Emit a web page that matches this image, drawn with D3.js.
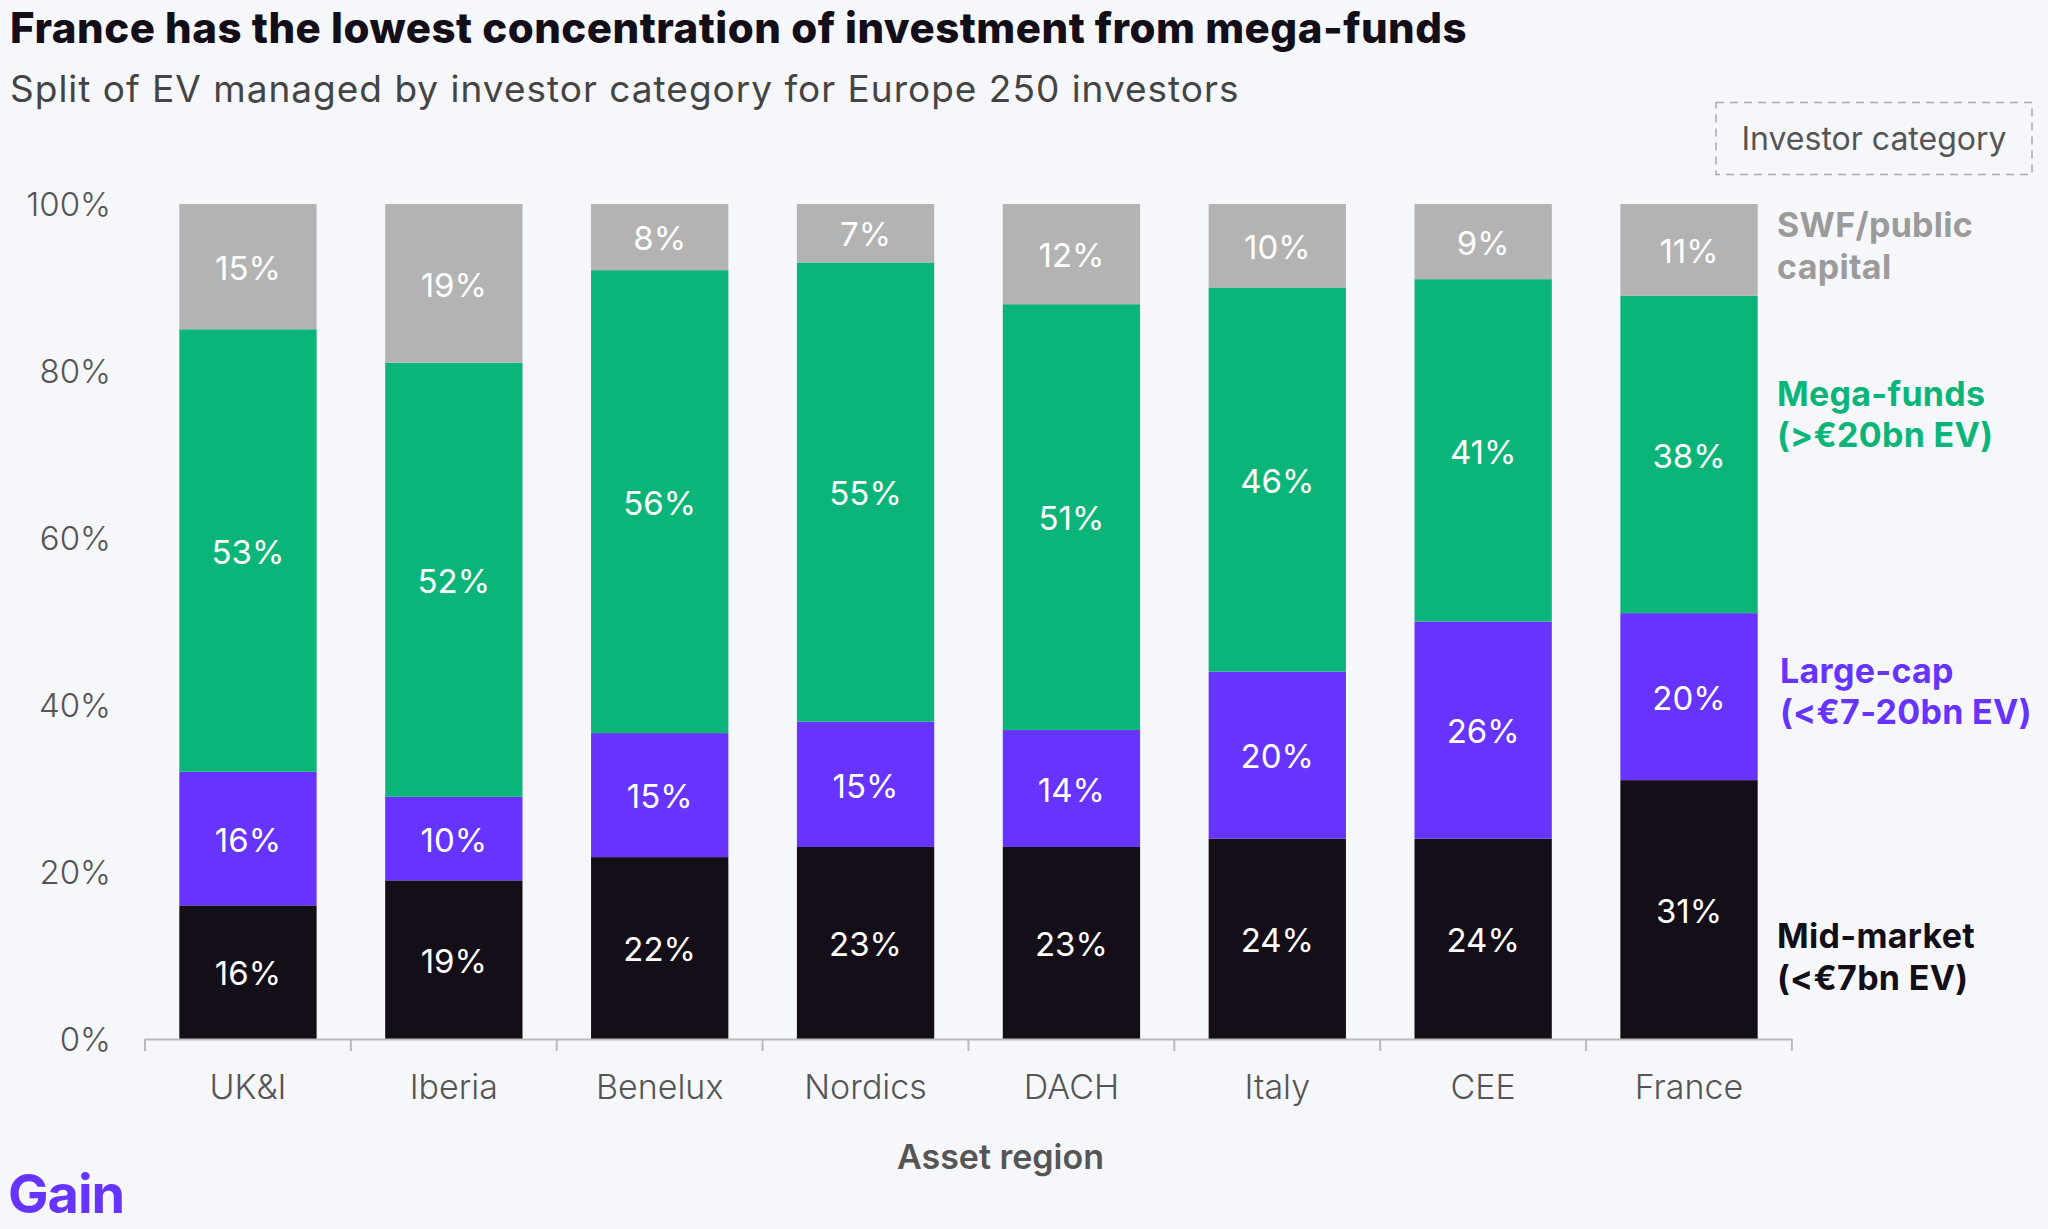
<!DOCTYPE html>
<html>
<head>
<meta charset="utf-8">
<script src="https://cdn.jsdelivr.net/npm/d3@7"></script>
<style>
  body { margin: 0; background: #f6f7fb; }
  svg { display: block; font-family: Inter, "Noto Sans", sans-serif; }
</style>
</head>
<body>
<div id="chart"></div>
<script>
// data
var regions = ["UK&I", "Iberia", "Benelux", "Nordics", "DACH", "Italy", "CEE", "France"];
var midMarket = [16, 19, 22, 23, 23, 24, 24, 31];
var largeCap = [16, 10, 15, 15, 14, 20, 26, 20];
var megaFunds = [53, 52, 56, 55, 51, 46, 41, 38];
var swfPublic = [15, 19, 8, 7, 12, 10, 9, 11];
var yTicks = [0, 20, 40, 60, 80, 100];

var categories = [
  { key: "mid", values: midMarket, color: "#130e17", lines: ["Mid-market", "(<€7bn EV)"], labelAt: 0.097 },
  { key: "large", values: largeCap, color: "#6633ff", lines: ["Large-cap", "(<€7-20bn EV)"], labelAt: 0.415 },
  { key: "mega", values: megaFunds, color: "#0bb57a", lines: ["Mega-funds", "(>€20bn EV)"], labelAt: 0.747 },
  { key: "swf", values: swfPublic, color: "#b3b3b3", lines: ["SWF/public", "capital"], labelAt: 0.949, labelColor: "#9b9b9b" }
];

var W = 2048, H = 1229;
var margin = { top: 204, right: 256, bottom: 190, left: 145 },
  width = W - margin.left - margin.right,
  height = H - margin.top - margin.bottom;

var svg = d3.select("#chart").append("svg")
  .attr("width", W)
  .attr("height", H);

// title + subtitle
svg.append("text")
  .attr("x", 10).attr("y", 43)
  .attr("font-size", 42).attr("font-weight", 800)
  .attr("fill", "#130e17")
  .attr("letter-spacing", 0.5)
  .text("France has the lowest concentration of investment from mega-funds");
svg.append("text")
  .attr("x", 10).attr("y", 102)
  .attr("font-size", 37)
  .attr("fill", "#444")
  .attr("letter-spacing", 1)
  .text("Split of EV managed by investor category for Europe 250 investors");

// legend title box
svg.append("rect")
  .attr("x", 1716).attr("y", 102.5)
  .attr("width", 316).attr("height", 72)
  .attr("fill", "none")
  .attr("stroke", "#aaa")
  .attr("stroke-width", 1.5)
  .attr("stroke-dasharray", "8,6");
svg.append("text")
  .attr("x", 1874).attr("y", 150)
  .attr("text-anchor", "middle")
  .attr("font-size", 32)
  .attr("fill", "#555")
  .text("Investor category");

var g = svg.append("g")
  .attr("transform", "translate(" + margin.left + "," + margin.top + ")");

var x = d3.scaleBand()
  .domain(regions)
  .range([0, width])
  .paddingInner(0.333)
  .paddingOuter(0.1667);

var y = d3.scaleLinear()
  .domain([0, 1])
  .range([height, 0]);

// stack, normalised to 100%
var table = regions.map(function (r, i) {
  var row = { region: r };
  categories.forEach(function (c) { row[c.key] = c.values[i]; });
  return row;
});
var stack = d3.stack()
  .keys(categories.map(function (c) { return c.key; }))
  .offset(d3.stackOffsetExpand);
var series = stack(table);

var layers = g.selectAll(".layer")
  .data(series)
  .enter().append("g")
  .attr("class", "layer")
  .attr("fill", function (d, i) { return categories[i].color; });

layers.selectAll("rect")
  .data(function (d) { return d; })
  .enter().append("rect")
  .attr("x", function (d) { return x(d.data.region); })
  .attr("y", function (d) { return y(d[1]); })
  .attr("width", x.bandwidth())
  .attr("height", function (d) { return y(d[0]) - y(d[1]); });

// value labels
series.forEach(function (s, i) {
  g.selectAll(".lbl-" + i)
    .data(s)
    .enter().append("text")
    .attr("x", function (d) { return x(d.data.region) + x.bandwidth() / 2; })
    .attr("y", function (d) { return (y(d[0]) + y(d[1])) / 2; })
    .attr("dy", "0.4em")
    .attr("text-anchor", "middle")
    .attr("font-size", 33)
    .attr("fill", "#fff")
    .text(function (d, j) { return categories[i].values[j] + "%"; });
});

// y tick labels (no axis line)
g.selectAll(".ytick")
  .data(yTicks)
  .enter().append("text")
  .attr("x", -34)
  .attr("y", function (d) { return y(d / 100); })
  .attr("dy", "0.36em")
  .attr("text-anchor", "end")
  .attr("font-size", 33)
  .attr("font-weight", 300)
  .attr("fill", "#555")
  .text(function (d) { return d + "%"; });

// x axis: baseline with ticks between bands
var step = x.step();
var x0 = x(regions[0]) - step * x.paddingOuter();
g.append("line")
  .attr("x1", 0).attr("x2", width)
  .attr("y1", height + 0.5).attr("y2", height + 0.5)
  .attr("stroke", "#bbb").attr("stroke-width", 2);
g.selectAll(".xtick")
  .data(d3.range(regions.length + 1))
  .enter().append("line")
  .attr("x1", function (i) { return x0 + i * step; })
  .attr("x2", function (i) { return x0 + i * step; })
  .attr("y1", height).attr("y2", height + 12)
  .attr("stroke", "#bbb").attr("stroke-width", 2);
g.selectAll(".xlabel")
  .data(regions)
  .enter().append("text")
  .attr("x", function (d) { return x(d) + x.bandwidth() / 2; })
  .attr("y", height + 60)
  .attr("text-anchor", "middle")
  .attr("font-size", 34)
  .attr("font-weight", 300)
  .attr("fill", "#555")
  .text(function (d) { return d; });

g.append("text")
  .attr("x", width / 2 + 32)
  .attr("y", height + 130)
  .attr("text-anchor", "middle")
  .attr("font-size", 34)
  .attr("font-weight", 600)
  .attr("fill", "#555")
  .text("Asset region");

// category labels on the right
categories.forEach(function (c) {
  var lx = width - 15 + (c.key === "large" ? 3 : 0);
  var t = g.append("text")
    .attr("x", lx)
    .attr("y", y(c.labelAt))
    .attr("font-size", 34)
    .attr("font-weight", 700)
    .attr("letter-spacing", 0.3)
    .attr("fill", c.labelColor || c.color);
  c.lines.forEach(function (line, k) {
    t.append("tspan")
      .attr("x", lx)
      .attr("dy", k === 0 ? "-0.28em" : "1.22em")
      .text(line);
  });
});

// logo
svg.append("text")
  .attr("x", 8).attr("y", 1213)
  .attr("font-size", 54)
  .attr("font-weight", 700)
  .attr("fill", "#6633ff")
  .attr("letter-spacing", -1)
  .text("Gain");
</script>
</body>
</html>
